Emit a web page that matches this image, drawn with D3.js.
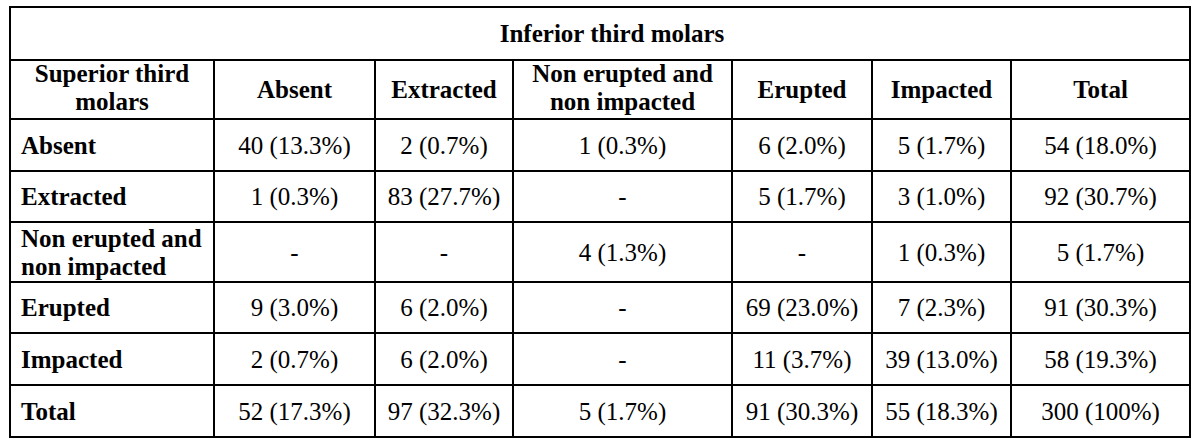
<!DOCTYPE html>
<html>
<head>
<meta charset="utf-8">
<script src="https://cdn.jsdelivr.net/npm/d3@7"></script>
<style>
  body { margin: 0; background: #fff; }
  svg text { font-family: "Liberation Serif", "Times New Roman", serif; fill: #000; }
</style>
</head>
<body>
<svg></svg>
<script>
const title = "Inferior third molars";
const cornerLabel = ["Superior third", "molars"];
const columns = [
  ["Absent"],
  ["Extracted"],
  ["Non erupted and", "non impacted"],
  ["Erupted"],
  ["Impacted"],
  ["Total"],
];
const rowLabels = [
  ["Absent"],
  ["Extracted"],
  ["Non erupted and", "non impacted"],
  ["Erupted"],
  ["Impacted"],
  ["Total"],
];
// counts per row (null = "-")
const counts = [
  [40, 2, 1, 6, 5, 54],
  [1, 83, null, 5, 3, 92],
  [null, null, 4, null, 1, 5],
  [9, 6, null, 69, 7, 91],
  [2, 6, null, 11, 39, 58],
  [52, 97, 5, 91, 55, 300],
];
const percents = [
  ["13.3%", "0.7%", "0.3%", "2.0%", "1.7%", "18.0%"],
  ["0.3%", "27.7%", null, "1.7%", "1.0%", "30.7%"],
  [null, null, "1.3%", null, "0.3%", "1.7%"],
  ["3.0%", "2.0%", null, "23.0%", "2.3%", "30.3%"],
  ["0.7%", "2.0%", null, "3.7%", "13.0%", "19.3%"],
  ["17.3%", "32.3%", "1.7%", "30.3%", "18.3%", "100%"],
];

// layout
const width = 1200, height = 446;
const colX = [10, 214, 375, 513, 732, 872, 1011, 1190];
const rowY = [7, 60, 119, 171, 222, 282, 333, 385, 437];
const fontSize = 25, lineGap = 28;

const svg = d3.select("svg").attr("width", width).attr("height", height);

// cell index -> edges
const xEdge = d3.scaleOrdinal().domain(d3.range(colX.length)).range(colX);
const yEdge = d3.scaleOrdinal().domain(d3.range(rowY.length)).range(rowY);

function cellText(lines, x, yMid, anchor, bold, shift) {
  const n = lines.length;
  const t = svg.append("text")
    .attr("text-anchor", anchor)
    .attr("font-size", fontSize)
    .attr("font-weight", bold ? "bold" : "normal");
  lines.forEach(function (l, i) {
    t.append("tspan")
      .attr("x", x)
      .attr("y", yMid + fontSize * 0.35 + (i - (n - 1) / 2) * lineGap + (n > 1 ? shift : 0))
      .text(l);
  });
}

// title row
cellText([title], 612, (yEdge(0) + yEdge(1)) / 2, "middle", true, 0);

// header row
const hMid = (yEdge(1) + yEdge(2)) / 2;
cellText(cornerLabel, (xEdge(0) + xEdge(1)) / 2, hMid, "middle", true, -2.5);
columns.forEach(function (c, j) {
  cellText(c, (xEdge(j + 1) + xEdge(j + 2)) / 2, hMid, "middle", true, -2.5);
});

// body rows
rowLabels.forEach(function (r, i) {
  const mid = (yEdge(i + 2) + yEdge(i + 3)) / 2;
  cellText(r, xEdge(0) + 11, mid, "start", true, 0);
  counts[i].forEach(function (v, j) {
    const s = v === null ? "-" : v + " (" + percents[i][j] + ")";
    cellText([s], (xEdge(j + 1) + xEdge(j + 2)) / 2, mid, "middle", false, 0);
  });
});

// grid lines
const grid = svg.append("g").attr("stroke", "#000").attr("stroke-width", 2);
rowY.forEach(function (y) {
  grid.append("line").attr("x1", colX[0] - 1).attr("x2", colX[colX.length - 1] + 1)
    .attr("y1", y).attr("y2", y);
});
colX.forEach(function (x, j) {
  const top = (j === 0 || j === colX.length - 1) ? rowY[0] : rowY[1];
  grid.append("line").attr("x1", x).attr("x2", x)
    .attr("y1", top).attr("y2", rowY[rowY.length - 1]);
});
</script>
</body>
</html>
